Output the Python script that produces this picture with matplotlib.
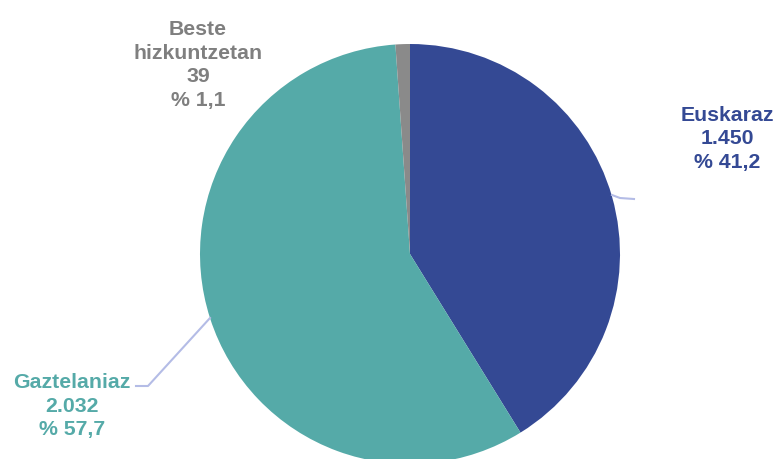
import matplotlib
matplotlib.use("Agg")
import matplotlib.pyplot as plt

plt.rcParams['font.family'] = ['Liberation Sans', 'DejaVu Sans']

# data
labels = ["Euskaraz", "Gaztelaniaz", "Beste\nhizkuntzetan"]
values = [1450, 2032, 39]
pct_labels = ["41,2", "57,7", "1,1"]
value_labels = ["1.450", "2.032", "39"]
COLORS = ["#344994", "#55AAA8", "#8A8A8A"]
TEXT_COLORS = ["#344994", "#55AAA8", "#7F7F7F"]
LINE_COLOR = "#B4BCE6"

W, H = 782, 459
fig = plt.figure(figsize=(W / 100, H / 100), dpi=100)
ax = fig.add_axes([0, 0, 1, 1])

# pie in pixel coordinates (y measured upward)
cx, cy, r = 410, H - 254, 210
ax.pie(values, colors=COLORS, startangle=90, counterclock=False,
       center=(cx, cy), radius=r, wedgeprops=dict(linewidth=0))
ax.set_xlim(0, W)
ax.set_ylim(0, H)
ax.set_aspect('equal')
ax.axis('off')

# label positions (pixel, from top)
label_pos = [(727, 139), (72, 406), (198, 65)]
for i in range(len(values)):
    txt = labels[i] + "\n" + value_labels[i] + "\n% " + pct_labels[i]
    x, y = label_pos[i]
    ax.text(x, H - y, txt, ha='center', va='center', fontsize=15.3,
            fontweight='bold', color=TEXT_COLORS[i], linespacing=1.32)

# leader lines
ax.plot([612, 620, 634], [H - 195, H - 198, H - 199], color=LINE_COLOR, lw=1.5)
ax.plot([210, 148, 136], [H - 318, H - 386, H - 386], color=LINE_COLOR, lw=1.5)

fig.savefig("out.png", dpi=100)
